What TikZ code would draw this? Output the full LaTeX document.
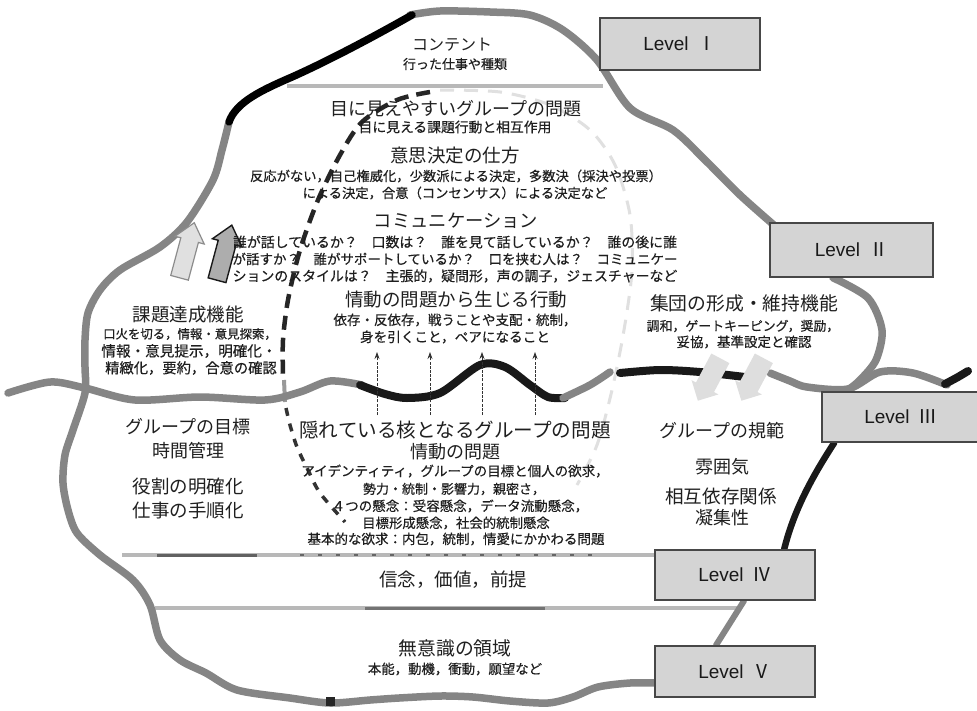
\documentclass[tikz,border=0pt]{standalone}
\usepackage{fontspec}
\setmainfont{Noto Sans CJK JP}
\newfontfamily\jpsmall{Noto Sans CJK JP}[FakeBold=0.4]
\newfontfamily\lvfont{Liberation Sans}
\usetikzlibrary{shapes.arrows,arrows.meta}
\pgfdeclarelayer{bglayer}
\pgfdeclarelayer{linelayer}
\pgfsetlayers{bglayer,linelayer,main}
\newcommand\jt[5]{\node[jtxt,font=\fontsize{#4}{#4}\selectfont] (#1) at (#2,#3) {#5};}
\newcommand\js[5]{\node[jtxt,font=\jpsmall\fontsize{#4}{#4}\selectfont] (#1) at (#2,#3) {#5};}
\begin{document}
\begin{tikzpicture}[x=1pt,y=-1pt,
  outline/.style={draw=black!48,line width=7.5pt,line cap=round,line join=round},
  darkline/.style={draw=black!90,line width=8pt,line cap=round,line join=round},
  sepline/.style={draw=black!28,line width=4pt},
  levelbox/.style={draw=black!72,line width=1.6pt,fill=black!17,inner sep=0pt,text=black!90,
     font=\lvfont\fontsize{19}{19}\selectfont},
  jtxt/.style={text=black!88,inner sep=0pt},
  upflow/.style={draw=black!80,line width=0.8pt,dash pattern=on 3pt off 1.2pt,-{Stealth[length=7pt,width=5pt]}},
  blockarrow/.style={single arrow,inner xsep=0pt,inner ysep=8.5pt,single arrow head extend=6pt,single arrow tip angle=80}
]
\useasboundingbox (0,0) rectangle (977,710);
\begin{pgfonlayer}{bglayer}
\fill[white] (0,0) rectangle (977,710);
\end{pgfonlayer}

% ---------- level boxes ----------
\node[levelbox,minimum width=160pt,minimum height=52pt] (lv1) at (680,44) {Level\hspace{9pt}{\rmfamily Ⅰ}};
\node[levelbox,minimum width=163pt,minimum height=54pt] (lv2) at (851.5,250) {Level\hspace{9pt}{\rmfamily Ⅱ}};
\node[levelbox,minimum width=158pt,minimum height=50pt] (lv3) at (901,417) {Level\hspace{9pt}{\rmfamily Ⅲ}};
\node[levelbox,minimum width=160pt,minimum height=50pt] (lv4) at (735,575) {Level\hspace{9pt}{\rmfamily Ⅳ}};
\node[levelbox,minimum width=160pt,minimum height=51pt] (lv5) at (735,671.5) {Level\hspace{9pt}{\rmfamily Ⅴ}};

\begin{pgfonlayer}{linelayer}
% separators
\draw[sepline] (287,86) -- (603,86);
\draw[sepline] (122,555) -- (lv4.west |- 0,555);
\draw[black!62,line width=3pt] (157,555) -- (257,555);
\draw[black!60,line width=2.5pt,dash pattern=on 4pt off 14pt] (300,555) -- (600,555);
\draw[sepline] (155,608) -- (740,608);
\draw[black!55,line width=3pt] (365,608) -- (545,608);

% dashed ellipse
\draw[black!85,line width=4.5pt,dash pattern=on 14pt off 8pt] plot[smooth] coordinates
  {(430,92) (397,100) (362,122) (340,155) (318,200) (300,250) (288,300) (283,340) (283,374)};
\draw[black!40,line width=4pt] (284,380) -- (285,402);
\draw[black!80,line width=3.5pt,dash pattern=on 8pt off 8pt] plot[smooth] coordinates
  {(286,408) (290,425) (297,447) (308,470) (320,493) (345,522)};
\draw[black!12,line width=3pt,dash pattern=on 14pt off 10pt] plot[smooth] coordinates
  {(440,90) (500,92) (550,105) (590,130) (615,165) (630,215) (632,270) (624,330) (612,390) (597,445) (577,485)};

% outline
\draw[outline] plot[smooth] coordinates {(229,122) (222,150) (213,180) (187,222) (160,247) (120,270) (100,290) (88,313) (85,340) (85,367) (85,393) (73,430) (65,455) (63,483) (68,510) (77,533) (100,555) (133,580) (150,605) (160,640) (180,660) (206,673) (237,690) (290,698) (330,703) (370,700) (399,698) (440,696) (473,697) (510,701) (548,703) (573,697) (598,687) (630,683) (656,683)};
\draw[outline] plot[smooth] coordinates {(410,15) (440,11) (490,12) (530,15) (563,30) (597,60) (630,108) (673,130) (705,160) (740,195) (775,226)};
\draw[draw=black,line width=7.5pt,line cap=round] (229,122) .. controls (236,102) and (262,90) .. (292,77) .. controls (330,60) and (375,36) .. (412,15);
\draw[outline] plot[smooth] coordinates {([xshift=-18.5pt]lv2.south) (868,298) (882,330) (876,360) (860,380) (848,390)};
\fill[black!85] (326,697) rectangle (335,706);

% water line
\draw[outline] plot[smooth] coordinates {(8,393) (50,382) (85,388) (135,400) (200,397) (265,400) (300,392) (330,381) (362,385)};
\draw[darkline] plot[smooth] coordinates {(360,385) (385,394) (407,398) (440,393) (480,365) (505,367) (530,385) (548,397) (565,398)};
\draw[outline] plot[smooth] coordinates {(563,398) (590,385) (610,372)};
\draw[darkline] plot[smooth] coordinates {(620,373) (660,370) (700,372) (745,377)};
\draw[outline] plot[smooth] coordinates {(770,373) (790,381) (807,387) (848,389) (880,372) (913,373) (947,385)};
\draw[darkline] plot[smooth] coordinates {(945,384) (958,377) (968,371)};

% connectors between level boxes
\draw[darkline,line width=6.5pt] ([xshift=13pt]lv3.south west) .. controls (818,468) and (795,505) .. ([xshift=130pt]lv4.north west);
\draw[outline,line width=6pt] ([xshift=9pt]lv4.south) -- ([xshift=-19pt]lv5.north);

% upward dashed arrows
\coordinate (f1a) at (377,415); \coordinate (f1b) at (377,352);
\coordinate (f2a) at (430,415); \coordinate (f2b) at (430,352);
\coordinate (f3a) at (482,415); \coordinate (f3b) at (482,352);
\coordinate (f4a) at (535,415); \coordinate (f4b) at (535,352);
\draw[upflow] (f1a) -- (f1b);
\draw[upflow] (f2a) -- (f2b);
\draw[upflow] (f3a) -- (f3b);
\draw[upflow] (f4a) -- (f4b);
\end{pgfonlayer}

% block arrows
\node[blockarrow,draw=black!45,fill=black!12,line width=1.2pt,minimum height=57pt,rotate=75] (ar1) at (185.5,255.5) {};
\node[blockarrow,draw=black!90,fill=black!32,line width=1.4pt,minimum height=57pt,rotate=75] (ar2) at (223,258) {};
\node[single arrow,fill=black!13,inner xsep=0pt,inner ysep=10pt,single arrow head extend=5pt,minimum height=48pt,rotate=242] (ar3) at (711.5,375) {};
\node[single arrow,fill=black!13,inner xsep=0pt,inner ysep=10pt,single arrow head extend=5pt,minimum height=48pt,rotate=242] (ar4) at (755,375) {};

% ---------- texts ----------
\jt{t1}{452}{45}{16}{コンテント}
\js{t2}{455}{64}{13}{行った仕事や種類}
\jt{t3}{456}{109}{18}{目に見えやすいグループの問題}
\js{t4}{455}{127}{13.8}{目に見える課題行動と相互作用}
\jt{t5}{455}{155}{18.5}{意思決定の仕方}
\js{t6}{456}{176}{13.3}{反応がない，自己権威化，少数派による決定，多数決（採決や投票）}
\js{t7}{455}{193}{13.3}{による決定，合意（コンセンサス）による決定など}
\jt{t8}{456}{221}{18.3}{コミュニケーション}
\js{t9}{455}{242}{13.9}{誰が話しているか？　口数は？　誰を見て話しているか？　誰の後に誰}
\js{t10}{455}{259}{13.5}{が話すか？　誰がサポートしているか？　口を挟む人は？　コミュニケー}
\js{t11}{455}{276}{13.9}{ションのスタイルは？　主張的，疑問形，声の調子，ジェスチャーなど}
\jt{t12}{456}{300}{18.5}{情動の問題から生じる行動}
\js{t13}{455}{320}{13.5}{依存・反依存，戦うことや支配・統制，}
\js{t14}{455}{337}{13.6}{身を引くこと，ペアになること}
\jt{t15}{188}{315}{18.5}{課題達成機能}
\js{t16}{190}{334}{12.4}{口火を切る，情報・意見探索，}
\js{t17}{189}{351}{14.6}{情報・意見提示，明確化・}
\js{t18}{191}{368}{14.3}{精緻化，要約，合意の確認}
\jt{t19}{744}{303}{18.8}{集団の形成・維持機能}
\js{t20}{743}{326}{12.9}{調和，ゲートキーピング，奨励，}
\js{t21}{744}{342}{13.5}{妥協，基準設定と確認}
\jt{t22}{188}{427}{18}{グループの目標}
\jt{t23}{188}{451}{18}{時間管理}
\jt{t24}{188}{487}{18.5}{役割の明確化}
\jt{t25}{188}{510}{18.5}{仕事の手順化}
\jt{t26}{455}{430}{19.6}{隠れている核となるグループの問題}
\jt{t27}{455}{452}{18}{情動の問題}
\js{t28}{455}{471}{13.5}{アイデンティティ，グループの目標と個人の欲求，}
\js{t29}{454}{489}{13}{勢力・統制・影響力，親密さ，}
\js{t30}{460}{506}{13.5}{４つの懸念：受容懸念，データ流動懸念，}
\js{t31}{456}{523}{13.4}{目標形成懸念，社会的統制懸念}
\js{t32}{456}{539}{13.5}{基本的な欲求：内包，統制，情愛にかかわる問題}
\jt{t33}{722}{431}{18}{グループの規範}
\jt{t34}{722}{467}{18}{雰囲気}
\jt{t35}{721}{496}{18.6}{相互依存関係}
\jt{t36}{722}{518}{18}{凝集性}
\jt{t37}{453}{580}{18.5}{信念，価値，前提}
\jt{t38}{455}{648}{18.8}{無意識の領域}
\js{t39}{455}{669}{13.4}{本能，動機，衝動，願望など}
\end{tikzpicture}
\end{document}
